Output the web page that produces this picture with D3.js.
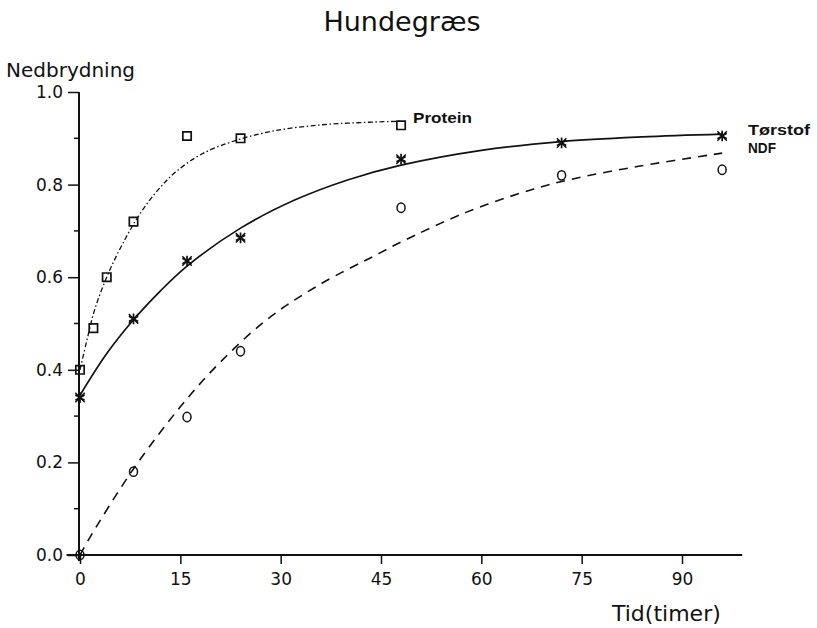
<!DOCTYPE html>
<html>
<head>
<meta charset="utf-8">
<script src="https://cdn.jsdelivr.net/npm/d3@7"></script>
<style>
  body { margin: 0; background: #fff; }
  svg { display: block; }
  text { font-family: "DejaVu Sans", sans-serif; fill: #111; }
</style>
</head>
<body>
<div id="chart"></div>
<script>
// measured points, time in hours
const proteinObs = [[0, 0.40], [2, 0.49], [4, 0.60], [8, 0.72], [16, 0.905], [24, 0.90], [48, 0.928]];
const torstofObs = [[0, 0.34], [8, 0.51], [16, 0.635], [24, 0.685], [48, 0.855], [72, 0.89], [96, 0.905]];
const ndfObs = [[0, 0.0], [8, 0.18], [16, 0.298], [24, 0.44], [48, 0.75], [72, 0.82], [96, 0.832]];

// fitted curves
const proteinFit = [[0, 0.40], [1, 0.462], [2.2, 0.53], [4.2, 0.607], [6.7, 0.681], [9.2, 0.742],
  [11.7, 0.789], [14.2, 0.826], [18.2, 0.866], [23.2, 0.895], [29, 0.916], [36, 0.929], [42, 0.934], [48, 0.937]];
const torstofFit = [[0, 0.345], [4, 0.435], [8, 0.508], [12, 0.57], [16, 0.624], [24, 0.706], [32, 0.766],
  [40, 0.81], [48, 0.842], [60, 0.874], [72, 0.893], [84, 0.903], [96, 0.909]];
const ndfFit = [[0, 0.0], [1.4, 0.036], [7.9, 0.184], [15, 0.32], [20.8, 0.414], [27.9, 0.508], [35.7, 0.583],
  [44.8, 0.652], [48, 0.676], [57.7, 0.74], [67.5, 0.789], [73.3, 0.811], [83.7, 0.84], [96, 0.868]];

const xTicks = [0, 15, 30, 45, 60, 75, 90];
const yTicks = [0.0, 0.2, 0.4, 0.6, 0.8, 1.0];
const yMinor = [0.1, 0.3, 0.5, 0.7, 0.9];

const width = 817, height = 628;

const svg = d3.select('#chart').append('svg')
  .attr('width', width)
  .attr('height', height);

const x = d3.scaleLinear().domain([0, 90]).range([80, 682]);
const y = d3.scaleLinear().domain([0, 1]).range([555, 92]);

// axes
const xAxis = svg.append('g')
  .attr('transform', `translate(0,${y(0)})`)
  .call(d3.axisBottom(x).tickValues(xTicks).tickSize(9).tickSizeOuter(0).tickFormat(d3.format('d')));
xAxis.select('.domain').remove();
xAxis.selectAll('line').attr('stroke', '#111').attr('stroke-width', 1.5);
xAxis.selectAll('text').attr('font-size', 17).attr('dy', '1.05em')
  .style('font-family', '"DejaVu Sans", sans-serif').attr('fill', '#111');

const yAxis = svg.append('g')
  .attr('transform', `translate(${x(0) - 1},0)`)
  .call(d3.axisLeft(y).tickValues(yTicks).tickSize(11).tickSizeOuter(0).tickFormat(d3.format('.1f')));
yAxis.select('.domain').remove();
yAxis.selectAll('line').attr('stroke', '#111').attr('stroke-width', 1.5);
yAxis.selectAll('text').attr('font-size', 17).attr('x', -16)
  .style('font-family', '"DejaVu Sans", sans-serif').attr('fill', '#111');

svg.append('g').selectAll('line')
  .data(yMinor)
  .join('line')
  .attr('x1', x(0) - 6).attr('x2', x(0) - 1)
  .attr('y1', d => y(d)).attr('y2', d => y(d))
  .attr('stroke', '#111').attr('stroke-width', 1.5);

svg.append('line')
  .attr('x1', x(-2)).attr('x2', x(99))
  .attr('y1', y(0)).attr('y2', y(0))
  .attr('stroke', '#111').attr('stroke-width', 2);
svg.append('line')
  .attr('x1', x(0) - 1).attr('x2', x(0) - 1)
  .attr('y1', y(1)).attr('y2', y(0) + 6)
  .attr('stroke', '#111').attr('stroke-width', 2);

// curves
const line = d3.line()
  .x(d => x(d[0]))
  .y(d => y(d[1]))
  .curve(d3.curveCatmullRom.alpha(0.5));

svg.append('path').datum(proteinFit)
  .attr('d', line).attr('fill', 'none')
  .attr('stroke', '#111').attr('stroke-width', 1.3)
  .attr('stroke-dasharray', '5,2.5,1.5,2.5');

svg.append('path').datum(torstofFit)
  .attr('d', line).attr('fill', 'none')
  .attr('stroke', '#111').attr('stroke-width', 1.7);

svg.append('path').datum(ndfFit)
  .attr('d', line).attr('fill', 'none')
  .attr('stroke', '#111').attr('stroke-width', 1.6)
  .attr('stroke-dasharray', '9,7');

// markers
svg.append('g').selectAll('path')
  .data(proteinObs)
  .join('path')
  .attr('transform', d => `translate(${x(d[0])},${y(d[1])})`)
  .attr('d', d3.symbol(d3.symbolSquare, 70))
  .attr('fill', 'none').attr('stroke', '#111').attr('stroke-width', 1.7);

const star = svg.append('g');
star.selectAll('path.a')
  .data(torstofObs)
  .join('path')
  .attr('class', 'a')
  .attr('transform', d => `translate(${x(d[0])},${y(d[1])})`)
  .attr('d', d3.symbol(d3.symbolAsterisk, 80))
  .attr('fill', 'none').attr('stroke', '#111').attr('stroke-width', 1.7);
star.selectAll('path.b')
  .data(torstofObs)
  .join('path')
  .attr('class', 'b')
  .attr('transform', d => `translate(${x(d[0])},${y(d[1])})`)
  .attr('d', d3.symbol(d3.symbolTimes, 60))
  .attr('fill', 'none').attr('stroke', '#111').attr('stroke-width', 1.5);

svg.append('g').selectAll('ellipse')
  .data(ndfObs)
  .join('ellipse')
  .attr('cx', d => x(d[0]))
  .attr('cy', d => y(d[1]))
  .attr('rx', 4).attr('ry', 4.7)
  .attr('fill', 'none').attr('stroke', '#111').attr('stroke-width', 1.5);

// titles
svg.append('text')
  .attr('x', 402).attr('y', 31)
  .attr('text-anchor', 'middle')
  .attr('font-size', 27)
  .text('Hundegræs');

svg.append('text')
  .attr('x', 6).attr('y', 77)
  .attr('font-size', 20)
  .text('Nedbrydning');

svg.append('text')
  .attr('x', 612).attr('y', 621)
  .attr('font-size', 22)
  .text('Tid(timer)');

// stretch a text horizontally so it spans the given width
function fitText(sel, x0, y0, w) {
  const k = w / sel.node().getComputedTextLength();
  sel.attr('x', 0).attr('y', 0)
    .attr('transform', `translate(${x0},${y0}) scale(${k},1)`);
}

const seriesLabels = [
  { name: 'Protein', x: 413, y: 123, w: 59 },
  { name: 'Tørstof', x: 748, y: 135, w: 62 },
  { name: 'NDF', x: 748, y: 153, w: 28 }
];
seriesLabels.forEach(d => {
  const t = svg.append('text')
    .style('font-family', '"Liberation Sans", Arial, sans-serif')
    .attr('font-size', 14)
    .attr('font-weight', 'bold')
    .text(d.name);
  fitText(t, d.x, d.y, d.w);
});
</script>
</body>
</html>
